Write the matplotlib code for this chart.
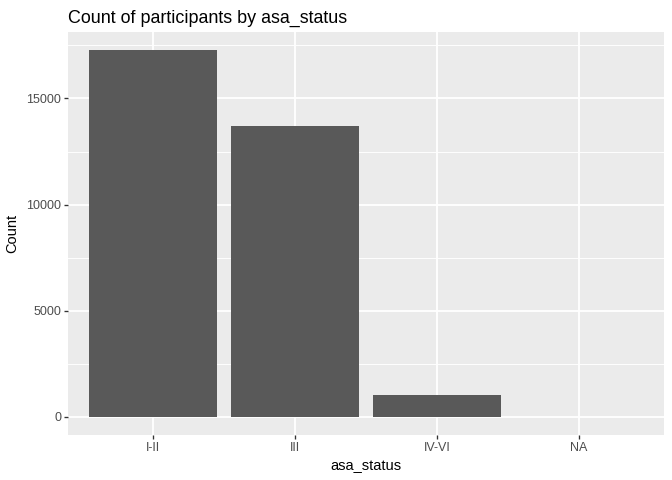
import matplotlib
matplotlib.use("Agg")
import matplotlib.pyplot as plt

# data
categories = ["I-II", "III", "IV-VI", "NA"]
counts = [17270, 13690, 1035, 0]

plt.rcParams["font.family"] = ["Liberation Sans", "DejaVu Sans"]

fig = plt.figure(figsize=(7, 5), dpi=96)
ax = fig.add_axes([68/672, 1 - 435/480, (664 - 68)/672, (435 - 32)/480])
ax.set_facecolor("#EBEBEB")

x = list(range(1, len(categories) + 1))
ax.bar(x, counts, width=0.9, color="#595959", zorder=3)

ymax = max(counts)
ax.set_ylim(-0.05*ymax, 1.05*ymax)
ax.set_xlim(0.4, len(categories) + 0.6)

ax.set_xticks(x)
ax.set_xticklabels(categories)
ax.set_yticks([0, 5000, 10000, 15000])
ax.set_yticks([2500, 7500, 12500, 17500], minor=True)
ax.set_xticks([], minor=True)

ax.grid(which="major", color="white", linewidth=1.4, zorder=0)
ax.grid(which="minor", axis="y", color="white", linewidth=0.7, zorder=0)
ax.set_axisbelow(True)
for s in ax.spines.values():
    s.set_visible(False)

ax.tick_params(which="major", length=2.75, width=1.0, color="#333333",
               labelcolor="#4D4D4D", labelsize=9.4, pad=2.2)
ax.tick_params(which="minor", length=0)

ax.set_xlabel("asa_status", fontsize=11, labelpad=4)
ax.set_ylabel("Count", fontsize=11, labelpad=5)
ax.set_title("Count of participants by asa_status", fontsize=13.4, loc="left", pad=7)

fig.savefig("out.png", dpi=96)
